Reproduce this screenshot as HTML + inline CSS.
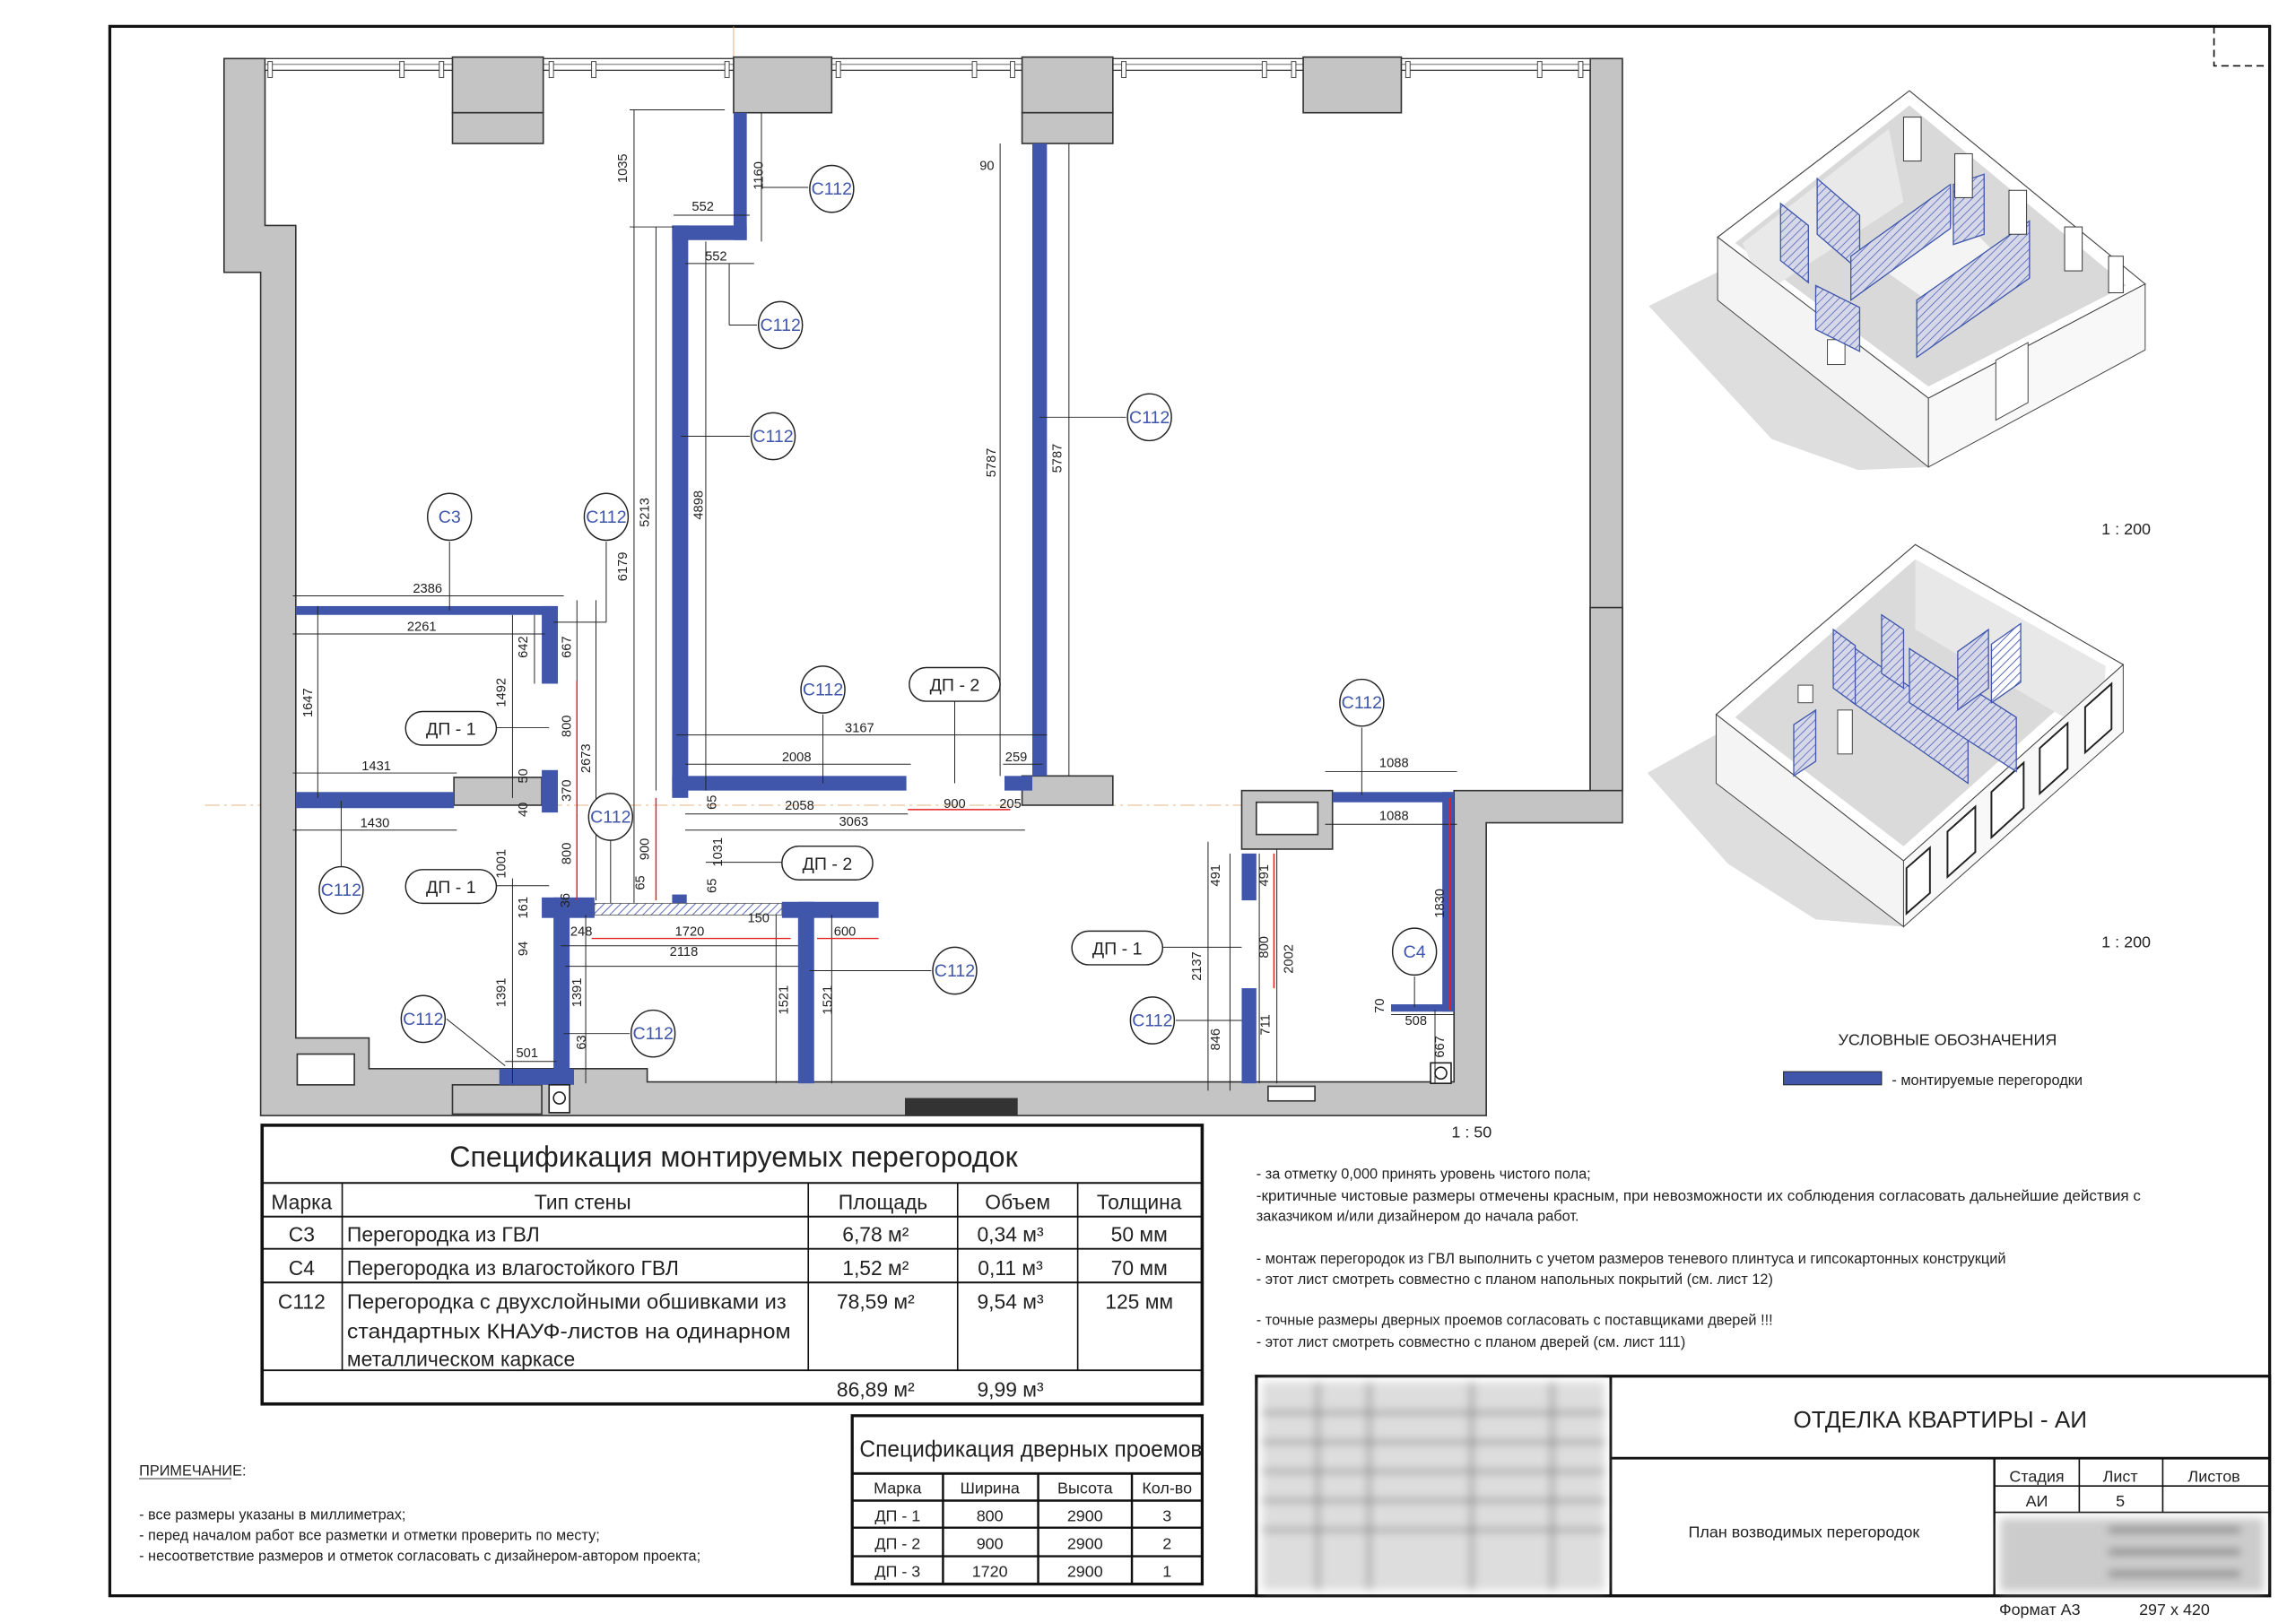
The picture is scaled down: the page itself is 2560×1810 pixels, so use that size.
<!DOCTYPE html>
<html><head><meta charset="utf-8"><style>
html,body{margin:0;padding:0;background:#fff;}
svg{display:block;}
text{font-family:"Liberation Sans",sans-serif;fill:#222;}
.d{font-size:9px;}
.b{fill:#3f56aa;}
.g{fill:#c4c4c4;stroke:#333;stroke-width:1;}
.l{stroke:#222;stroke-width:0.6;fill:none;}
.r{stroke:#e52020;stroke-width:0.9;fill:none;}
.rt{fill:#e52020;font-size:9px;}
.c{fill:#fff;stroke:#222;stroke-width:0.9;}
.ct{font-size:12px;fill:#3f56aa;text-anchor:middle;}
.ot{font-size:12px;text-anchor:middle;}
.w{fill:#fff;stroke:#444;stroke-width:0.6;}
.p{fill:url(#h);stroke:#3f56aa;stroke-width:0.8;}
</style></head><body>
<svg width="2560" height="1810" viewBox="0 0 1568 1108.6" preserveAspectRatio="none" xmlns="http://www.w3.org/2000/svg">
<defs>
<pattern id="h" width="4" height="4" patternUnits="userSpaceOnUse" patternTransform="rotate(45)"><rect width="4" height="4" fill="#d6d8e8"/><line x1="0" y1="0" x2="0" y2="4" stroke="#5566bb" stroke-width="1"/></pattern>
<pattern id="h2" width="4" height="4" patternUnits="userSpaceOnUse" patternTransform="rotate(45)"><rect width="4" height="4" fill="#fff"/><line x1="0" y1="0" x2="0" y2="4" stroke="#5566bb" stroke-width="1.2"/></pattern>
<filter id="bl"><feGaussianBlur stdDeviation="3"/></filter>
</defs>
<rect width="1568" height="1108.6" fill="#fff"/>
<!-- frame -->
<rect x="75" y="18" width="1475" height="1072" fill="none" stroke="#111" stroke-width="2"/>
<path d="M1512 18 V45 H1550" fill="none" stroke="#111" stroke-width="1" stroke-dasharray="5,3"/>
<line x1="501" y1="18" x2="501" y2="40" stroke="#e0a060" stroke-width="0.5"/>
<line x1="140" y1="550" x2="850" y2="550" stroke="#e0a060" stroke-width="0.5" stroke-dasharray="10,3,2,3"/>

<!-- building walls -->
<polygon class="g" points="153,40 181,40 181,154 202,154 202,709 252,709 252,730 442,730 442,739 993,739 993,540 1086,540 1086,40 1108,40 1108,562 1015,562 1015,762 178,762 178,186 153,186"/>
<rect x="181" y="40" width="905" height="8" fill="#fff" stroke="#333" stroke-width="0.8"/>
<line x1="181" y1="44" x2="1086" y2="44" stroke="#555" stroke-width="0.5"/>
<g fill="#fff" stroke="#444" stroke-width="0.6">
<rect x="183" y="42" width="3" height="11"/><rect x="273" y="42" width="3" height="11"/><rect x="300" y="42" width="3" height="11"/>
<rect x="375" y="42" width="3" height="11"/><rect x="404" y="42" width="3" height="11"/><rect x="495" y="42" width="3" height="11"/>
<rect x="571" y="42" width="3" height="11"/><rect x="664" y="42" width="3" height="11"/><rect x="690" y="42" width="3" height="11"/>
<rect x="766" y="42" width="3" height="11"/><rect x="862" y="42" width="3" height="11"/><rect x="882" y="42" width="3" height="11"/>
<rect x="960" y="42" width="3" height="11"/><rect x="1050" y="42" width="3" height="11"/><rect x="1078" y="42" width="3" height="11"/>
</g>
<rect class="g" x="309" y="39" width="62" height="38"/><rect class="g" x="309" y="77" width="62" height="21"/>
<rect class="g" x="501" y="39" width="67" height="38"/>
<rect class="g" x="698" y="39" width="62" height="38"/><rect class="g" x="698" y="77" width="62" height="21"/>
<rect class="g" x="890" y="39" width="67" height="38"/>
<rect class="g" x="1086" y="415" width="22" height="125"/>
<rect x="618" y="750" width="77" height="12" fill="#333"/>
<rect x="203" y="720" width="39" height="21" fill="#fff" stroke="#333"/>
<rect x="866" y="742" width="32" height="10" fill="#fff" stroke="#333"/>
<rect class="g" x="309" y="741" width="61" height="20"/>
<rect class="g" x="310" y="531" width="60" height="19"/>
<rect class="g" x="698" y="530" width="62" height="20"/>
<rect class="g" x="848" y="540" width="62" height="40"/><rect x="858" y="548" width="42" height="22" fill="#fff" stroke="#333"/>

<!-- blue partitions -->
<g class="b">
<rect x="501" y="77" width="9" height="87"/><rect x="459" y="154" width="51" height="10"/>
<rect x="459" y="154" width="11" height="391"/><rect x="459" y="530" width="160" height="10"/>
<rect x="705" y="98" width="10" height="432"/><rect x="686" y="530" width="19" height="10"/>
<rect x="202" y="414" width="178" height="6"/><rect x="370" y="414" width="11" height="53"/>
<rect x="202" y="541" width="108" height="11"/><rect x="370" y="526" width="11" height="29"/>
<rect x="370" y="613" width="36" height="14"/><rect x="378" y="613" width="11" height="127"/>
<rect x="459" y="611" width="10" height="6"/>
<rect x="534" y="616" width="66" height="11"/><rect x="545" y="616" width="11" height="124"/>
<rect x="341" y="730" width="51" height="11"/>
<rect x="848" y="583" width="10" height="32"/><rect x="848" y="675" width="10" height="65"/>
<rect x="910" y="541" width="83" height="7"/><rect x="985" y="541" width="8" height="150"/>
<rect x="950" y="686" width="43" height="5"/>
</g>
<rect x="406" y="617" width="128" height="8" fill="url(#h2)" stroke="#555" stroke-width="0.5"/>
<rect x="375" y="741" width="14" height="19" fill="#fff" stroke="#222"/><circle cx="382" cy="750" r="4" fill="none" stroke="#222"/>
<rect x="977" y="726" width="14" height="14" fill="#fff" stroke="#222"/><circle cx="984" cy="733" r="4" fill="none" stroke="#222"/>

<!-- dimension lines -->
<g class="l">
<line x1="200" y1="407" x2="385" y2="407"/><line x1="200" y1="433" x2="372" y2="433"/>
<line x1="200" y1="528" x2="312" y2="528"/><line x1="200" y1="567" x2="312" y2="567"/>
<line x1="217" y1="414" x2="217" y2="545"/><line x1="350" y1="420" x2="350" y2="545"/><line x1="365" y1="420" x2="365" y2="467"/>
<line x1="394" y1="410" x2="394" y2="467"/><line x1="407" y1="410" x2="407" y2="615"/>
<line x1="433" y1="75" x2="433" y2="617"/><line x1="448" y1="155" x2="448" y2="540"/>
<line x1="430" y1="75" x2="495" y2="75"/><line x1="430" y1="155" x2="460" y2="155"/>
<line x1="520" y1="77" x2="520" y2="165"/><line x1="460" y1="147" x2="512" y2="147"/><line x1="468" y1="180" x2="515" y2="180"/>
<line x1="482" y1="165" x2="482" y2="540"/><line x1="683" y1="98" x2="683" y2="530"/><line x1="730" y1="98" x2="730" y2="530"/>
<line x1="462" y1="502" x2="715" y2="502"/><line x1="468" y1="522" x2="622" y2="522"/><line x1="468" y1="556" x2="620" y2="556"/>
<line x1="468" y1="567" x2="700" y2="567"/><line x1="685" y1="522" x2="712" y2="522"/>
<line x1="905" y1="527" x2="995" y2="527"/><line x1="905" y1="563" x2="995" y2="563"/>
<line x1="825" y1="575" x2="825" y2="745"/><line x1="840" y1="583" x2="840" y2="745"/><line x1="860" y1="583" x2="860" y2="740"/><line x1="872" y1="580" x2="872" y2="740"/>
<line x1="950" y1="693" x2="993" y2="693"/><line x1="980" y1="690" x2="980" y2="740"/>
<line x1="345" y1="725" x2="380" y2="725"/><line x1="400" y1="625" x2="400" y2="740"/>
<line x1="383" y1="646" x2="545" y2="646"/><line x1="386" y1="660" x2="545" y2="660"/><line x1="530" y1="625" x2="530" y2="740"/><line x1="568" y1="625" x2="568" y2="740"/>
<line x1="350" y1="600" x2="350" y2="740"/>
</g>
<g class="r">
<line x1="394" y1="465" x2="394" y2="555"/><line x1="394" y1="555" x2="394" y2="615"/>
<line x1="448" y1="545" x2="448" y2="615"/><line x1="620" y1="553" x2="690" y2="553"/>
<line x1="404" y1="641" x2="540" y2="641"/><line x1="558" y1="641" x2="600" y2="641"/>
<line x1="870" y1="583" x2="870" y2="675"/><line x1="990" y1="545" x2="990" y2="690"/>
</g>

<!-- dimension text horizontal -->
<g class="d" text-anchor="middle">
<text x="292" y="405">2386</text><text x="288" y="431">2261</text><text x="257" y="526">1431</text><text x="256" y="565">1430</text>
<text x="480" y="144">552</text><text x="489" y="178">552</text><text x="587" y="500">3167</text><text x="544" y="520">2008</text>
<text x="546" y="553">2058</text><text x="583" y="564">3063</text><text x="694" y="520">259</text><text x="690" y="552">205</text>
<text x="674" y="116">90</text><text x="952" y="524">1088</text><text x="952" y="560">1088</text><text x="967" y="700">508</text>
<text x="360" y="722">501</text><text x="397" y="639">248</text><text x="518" y="630">150</text><text x="467" y="653">2118</text>
</g>
<g class="rt" text-anchor="middle"><text x="652" y="552">900</text><text x="471" y="639">1720</text><text x="577" y="639">600</text></g>
<g class="d" text-anchor="middle">
<text transform="translate(428,115) rotate(-90)">1035</text><text transform="translate(521,120) rotate(-90)">1160</text>
<text transform="translate(443,350) rotate(-90)">5213</text><text transform="translate(428,387) rotate(-90)">6179</text>
<text transform="translate(480,345) rotate(-90)">4898</text><text transform="translate(680,316) rotate(-90)">5787</text>
<text transform="translate(725,313) rotate(-90)">5787</text><text transform="translate(360,442) rotate(-90)">642</text>
<text transform="translate(390,442) rotate(-90)">667</text><text transform="translate(345,473) rotate(-90)">1492</text>
<text transform="translate(213,480) rotate(-90)">1647</text><text transform="translate(403,518) rotate(-90)">2673</text>
<text transform="translate(360,530) rotate(-90)">50</text><text transform="translate(390,540) rotate(-90)">370</text>
<text transform="translate(360,553) rotate(-90)">40</text><text transform="translate(345,590) rotate(-90)">1001</text>
<text transform="translate(440,603) rotate(-90)">65</text><text transform="translate(489,605) rotate(-90)">65</text>
<text transform="translate(493,582) rotate(-90)">1031</text><text transform="translate(489,548) rotate(-90)">65</text>
<text transform="translate(360,620) rotate(-90)">161</text><text transform="translate(389,615) rotate(-90)">36</text>
<text transform="translate(360,648) rotate(-90)">94</text><text transform="translate(345,678) rotate(-90)">1391</text>
<text transform="translate(397,678) rotate(-90)">1391</text><text transform="translate(400,712) rotate(-90)">63</text>
<text transform="translate(538,683) rotate(-90)">1521</text><text transform="translate(568,683) rotate(-90)">1521</text>
<text transform="translate(833,598) rotate(-90)">491</text><text transform="translate(866,598) rotate(-90)">491</text>
<text transform="translate(820,660) rotate(-90)">2137</text><text transform="translate(883,655) rotate(-90)">2002</text>
<text transform="translate(867,700) rotate(-90)">711</text><text transform="translate(833,710) rotate(-90)">846</text>
<text transform="translate(945,687) rotate(-90)">70</text><text transform="translate(986,715) rotate(-90)">667</text>
</g>
<g class="rt" text-anchor="middle">
<text transform="translate(390,496) rotate(-90)">800</text><text transform="translate(390,583) rotate(-90)">800</text>
<text transform="translate(443,580) rotate(-90)">900</text><text transform="translate(866,647) rotate(-90)">800</text>
<text transform="translate(986,617) rotate(-90)">1830</text>
</g>

<!-- tag leaders -->
<g class="l">
<line x1="520" y1="128" x2="552" y2="128"/><line x1="498" y1="180" x2="498" y2="222"/><line x1="498" y1="222" x2="517" y2="222"/>
<line x1="465" y1="298" x2="512" y2="298"/><line x1="710" y1="285" x2="769" y2="285"/><line x1="307" y1="370" x2="307" y2="417"/>
<line x1="414" y1="370" x2="414" y2="425"/><line x1="378" y1="425" x2="414" y2="425"/><line x1="562" y1="488" x2="562" y2="535"/>
<line x1="652" y1="479" x2="652" y2="535"/><line x1="930" y1="497" x2="930" y2="543"/><line x1="339" y1="497" x2="375" y2="497"/>
<line x1="417" y1="574" x2="417" y2="617"/><line x1="534" y1="589" x2="482" y2="589"/><line x1="339" y1="605" x2="375" y2="605"/>
<line x1="233" y1="592" x2="233" y2="547"/><line x1="636" y1="663" x2="553" y2="663"/><line x1="794" y1="647" x2="848" y2="647"/>
<line x1="305" y1="696" x2="345" y2="728"/><line x1="430" y1="706" x2="385" y2="706"/><line x1="803" y1="697" x2="848" y2="697"/><line x1="966" y1="667" x2="966" y2="688"/>
</g>
<!-- tags -->
<g>
<ellipse class="c" cx="568" cy="129" rx="15" ry="16"/><text class="ct" x="568" y="133">C112</text>
<ellipse class="c" cx="533" cy="222" rx="15" ry="16"/><text class="ct" x="533" y="226">C112</text>
<ellipse class="c" cx="528" cy="298" rx="15" ry="16"/><text class="ct" x="528" y="302">C112</text>
<ellipse class="c" cx="785" cy="285" rx="15" ry="16"/><text class="ct" x="785" y="289">C112</text>
<ellipse class="c" cx="307" cy="353" rx="15" ry="16"/><text class="ct" x="307" y="357">C3</text>
<ellipse class="c" cx="414" cy="353" rx="15" ry="16"/><text class="ct" x="414" y="357">C112</text>
<ellipse class="c" cx="562" cy="471" rx="15" ry="16"/><text class="ct" x="562" y="475">C112</text>
<ellipse class="c" cx="930" cy="480" rx="15" ry="16"/><text class="ct" x="930" y="484">C112</text>
<ellipse class="c" cx="417" cy="558" rx="15" ry="16"/><text class="ct" x="417" y="562">C112</text>
<ellipse class="c" cx="233" cy="608" rx="15" ry="16"/><text class="ct" x="233" y="612">C112</text>
<ellipse class="c" cx="652" cy="663" rx="15" ry="16"/><text class="ct" x="652" y="667">C112</text>
<ellipse class="c" cx="289" cy="696" rx="15" ry="16"/><text class="ct" x="289" y="700">C112</text>
<ellipse class="c" cx="446" cy="706" rx="15" ry="16"/><text class="ct" x="446" y="710">C112</text>
<ellipse class="c" cx="787" cy="697" rx="15" ry="16"/><text class="ct" x="787" y="701">C112</text>
<ellipse class="c" cx="966" cy="650" rx="15" ry="16"/><text class="ct" x="966" y="654">C4</text>
<rect class="c" x="621" y="456" width="62" height="23" rx="11.5"/><text class="ot" x="652" y="472">ДП - 2</text>
<rect class="c" x="277" y="486" width="62" height="23" rx="11.5"/><text class="ot" x="308" y="502">ДП - 1</text>
<rect class="c" x="534" y="578" width="62" height="23" rx="11.5"/><text class="ot" x="565" y="594">ДП - 2</text>
<rect class="c" x="277" y="594" width="62" height="23" rx="11.5"/><text class="ot" x="308" y="610">ДП - 1</text>
<rect class="c" x="732" y="636" width="62" height="23" rx="11.5"/><text class="ot" x="763" y="652">ДП - 1</text>
</g>

<!-- isometric 1 -->
<polygon points="1126,209 1185,180 1317,319 1269,321 1210,300" fill="#dedede"/>
<polygon points="1173,162 1304,62 1465,194 1317,272" fill="#fff" stroke="#444" stroke-width="0.7"/>
<polygon points="1185,166 1304,72 1452,195 1317,264" fill="#d9d9d9"/>
<polygon points="1190,166 1290,88 1300,138 1205,200" fill="#e9e9e9"/>
<polygon points="1280,180 1340,150 1380,190 1330,215" fill="#f4f4f4"/>
<polygon points="1173,162 1317,272 1317,319 1173,205" class="w" style="fill:#f4f4f4"/>
<polygon points="1317,272 1465,194 1465,239 1317,319" class="w" style="fill:#f8f8f8"/>
<polygon points="1363,246 1385,234 1385,275 1363,287" fill="#fff" stroke="#444" stroke-width="0.6"/>
<rect x="1248" y="232" width="12" height="17" fill="#fff" stroke="#444" stroke-width="0.6"/>
<polygon class="p" points="1216,139 1235,154 1235,193 1216,178"/>
<polygon class="p" points="1241,122 1270,147 1270,185 1241,160"/>
<polygon class="p" points="1264,175 1332,126 1332,156 1264,205"/>
<polygon class="p" points="1309,205 1386,151 1386,190 1309,244"/>
<polygon class="p" points="1334,126 1355,119 1355,160 1334,167"/>
<polygon class="p" points="1240,195 1270,210 1270,240 1240,225"/>
<g fill="#fff" stroke="#333" stroke-width="0.6"><rect x="1300" y="80" width="12" height="30"/><rect x="1335" y="105" width="12" height="30"/><rect x="1372" y="130" width="12" height="30"/><rect x="1410" y="155" width="12" height="30"/><rect x="1440" y="175" width="10" height="25"/></g>
<!-- isometric 2 -->
<polygon points="1125,528 1175,500 1300,633 1240,628 1180,590" fill="#dedede"/>
<polygon points="1172,488 1308,372 1450,454 1300,588" fill="#fff" stroke="#444" stroke-width="0.7"/>
<polygon points="1185,490 1308,382 1438,455 1300,578" fill="#dadada"/>
<polygon points="1308,382 1438,455 1435,505 1308,430" fill="#e8e8e8"/>
<polygon points="1172,488 1300,588 1300,633 1172,535" class="w" style="fill:#f4f4f4"/>
<polygon points="1300,588 1450,454 1450,500 1300,633" class="w" style="fill:#f8f8f8"/>
<g fill="#fff" stroke="#222" stroke-width="1.2">
<polygon points="1302,593 1318,579 1318,610 1302,624"/><polygon points="1330,568 1349,551 1349,582 1330,599"/>
<polygon points="1360,541 1382,521 1382,552 1360,572"/><polygon points="1393,511 1412,494 1412,525 1393,542"/>
<polygon points="1424,483 1442,467 1442,498 1424,514"/></g>
<polygon class="p" points="1264,441 1344,497 1344,535 1264,479"/>
<polygon class="p" points="1304,443 1377,490 1377,527 1304,480"/>
<polygon class="p" points="1252,430 1267,441 1267,481 1252,470"/>
<polygon class="p" points="1285,420 1300,430 1300,470 1285,460"/>
<polygon class="p" points="1337,445 1358,430 1358,470 1337,485"/>
<polygon points="1360,440 1380,426 1380,466 1360,480" fill="url(#h2)" stroke="#3f56aa" stroke-width="0.8"/>
<polygon class="p" points="1225,495 1240,485 1240,520 1225,530"/>
<rect x="1255" y="485" width="10" height="30" fill="#fff" stroke="#444" stroke-width="0.6"/>
<rect x="1228" y="468" width="10" height="12" fill="#fff" stroke="#444" stroke-width="0.6"/>

<g font-size="11" text-anchor="middle"><text x="1452" y="365">1 : 200</text><text x="1452" y="647">1 : 200</text><text x="1005" y="777">1 : 50</text></g>
<text x="1330" y="714" font-size="11" text-anchor="middle">УСЛОВНЫЕ ОБОЗНАЧЕНИЯ</text>
<rect x="1218" y="732" width="67" height="9" fill="#3f56aa" stroke="#222" stroke-width="0.6"/>
<text x="1292" y="741" font-size="10">- монтируемые перегородки</text>

<!-- table 1 -->
<g stroke="#111" fill="none">
<rect x="179" y="768.6" width="642" height="190.4" stroke-width="2.2"/>
<line x1="179" y1="808" x2="821" y2="808" stroke-width="1.2"/>
<line x1="179" y1="831" x2="821" y2="831" stroke-width="1.2"/>
<line x1="179" y1="853" x2="821" y2="853" stroke-width="1.2"/>
<line x1="179" y1="876" x2="821" y2="876" stroke-width="1.2"/>
<line x1="179" y1="936" x2="821" y2="936" stroke-width="1.2"/>
<line x1="233.7" y1="808" x2="233.7" y2="936" stroke-width="1"/>
<line x1="552" y1="808" x2="552" y2="936" stroke-width="1"/>
<line x1="654" y1="808" x2="654" y2="936" stroke-width="1"/>
<line x1="736" y1="808" x2="736" y2="936" stroke-width="1"/>
</g>
<text x="307" y="797" font-size="20" textLength="388" lengthAdjust="spacingAndGlyphs">Спецификация монтируемых перегородок</text>
<g font-size="14" text-anchor="middle">
<text x="206" y="826">Марка</text><text x="398" y="826">Тип стены</text><text x="603" y="826">Площадь</text><text x="695" y="826">Объем</text><text x="778" y="826">Толщина</text>
<text x="206" y="848">C3</text><text x="206" y="871">C4</text><text x="206" y="894">C112</text>
<text x="598" y="848">6,78 м²</text><text x="690" y="848">0,34 м³</text><text x="778" y="848">50 мм</text>
<text x="598" y="871">1,52 м²</text><text x="690" y="871">0,11 м³</text><text x="778" y="871">70 мм</text>
<text x="598" y="894">78,59 м²</text><text x="690" y="894">9,54 м³</text><text x="778" y="894">125 мм</text>
<text x="598" y="954">86,89 м²</text><text x="690" y="954">9,99 м³</text>
</g>
<g font-size="14">
<text x="237" y="848">Перегородка из ГВЛ</text>
<text x="237" y="871">Перегородка из влагостойкого ГВЛ</text>
<text x="237" y="894" textLength="300" lengthAdjust="spacingAndGlyphs">Перегородка с двухслойными обшивками из</text>
<text x="237" y="914" textLength="303" lengthAdjust="spacingAndGlyphs">стандартных КНАУФ-листов на одинарном</text>
<text x="237" y="933">металлическом каркасе</text>
</g>
<!-- table 2 -->
<g stroke="#111" fill="none">
<rect x="582" y="967" width="239" height="115" stroke-width="2"/>
<line x1="582" y1="1006.5" x2="821" y2="1006.5" stroke-width="1.8"/>
<line x1="582" y1="1025" x2="821" y2="1025" stroke-width="1.5"/>
<line x1="582" y1="1043.5" x2="821" y2="1043.5" stroke-width="1.5"/>
<line x1="582" y1="1063" x2="821" y2="1063" stroke-width="1.5"/>
<line x1="644" y1="1006.5" x2="644" y2="1082" stroke-width="1.5"/>
<line x1="709" y1="1006.5" x2="709" y2="1082" stroke-width="1.5"/>
<line x1="773" y1="1006.5" x2="773" y2="1082" stroke-width="1.5"/>
</g>
<text x="587" y="995" font-size="16" textLength="234" lengthAdjust="spacingAndGlyphs">Спецификация дверных проемов</text>
<g font-size="11" text-anchor="middle">
<text x="613" y="1020">Марка</text><text x="676" y="1020">Ширина</text><text x="741" y="1020">Высота</text><text x="797" y="1020">Кол-во</text>
<text x="613" y="1039">ДП - 1</text><text x="676" y="1039">800</text><text x="741" y="1039">2900</text><text x="797" y="1039">3</text>
<text x="613" y="1058">ДП - 2</text><text x="676" y="1058">900</text><text x="741" y="1058">2900</text><text x="797" y="1058">2</text>
<text x="613" y="1077">ДП - 3</text><text x="676" y="1077">1720</text><text x="741" y="1077">2900</text><text x="797" y="1077">1</text>
</g>
<!-- left notes -->
<g font-size="10" fill="#333">
<text x="95" y="1008">ПРИМЕЧАНИЕ:</text>
<text x="95" y="1038">- все размеры указаны в миллиметрах;</text>
<text x="95" y="1052">- перед началом работ все разметки и отметки проверить по месту;</text>
<text x="95" y="1066">- несоответствие размеров и отметок согласовать с дизайнером-автором проекта;</text>
</g>
<line x1="95" y1="1010" x2="158" y2="1010" stroke="#333" stroke-width="0.6"/>
<!-- right notes -->
<g font-size="10" fill="#333">
<text x="858" y="805">- за отметку 0,000 принять уровень чистого пола;</text>
<text x="858" y="820" textLength="604" lengthAdjust="spacingAndGlyphs">-критичные чистовые размеры отмечены красным, при невозможности их соблюдения согласовать дальнейшие действия с</text>
<text x="858" y="834">заказчиком и/или дизайнером до начала работ.</text>
<text x="858" y="863">- монтаж перегородок из ГВЛ выполнить с учетом размеров теневого плинтуса и гипсокартонных конструкций</text>
<text x="858" y="877">- этот лист смотреть совместно с планом напольных покрытий (см. лист 12)</text>
<text x="858" y="905">- точные размеры дверных проемов согласовать с поставщиками дверей !!!</text>
<text x="858" y="920">- этот лист смотреть совместно с планом дверей (см. лист 111)</text>
</g>
<!-- title block -->
<g stroke="#111" fill="none">
<rect x="858" y="940" width="692" height="150" stroke-width="2"/>
<line x1="1100" y1="940" x2="1100" y2="1090" stroke-width="1.8"/>
<line x1="1100" y1="996" x2="1550" y2="996" stroke-width="1.8"/>
<line x1="1362" y1="996" x2="1362" y2="1090" stroke-width="1.5"/>
<line x1="1420" y1="996" x2="1420" y2="1033" stroke-width="1"/>
<line x1="1477" y1="996" x2="1477" y2="1033" stroke-width="1"/>
<line x1="1362" y1="1015" x2="1550" y2="1015" stroke-width="1"/>
<line x1="1362" y1="1033" x2="1550" y2="1033" stroke-width="1"/>
</g>
<g filter="url(#bl)">
<rect x="862" y="944" width="234" height="142" fill="#ddd"/>
<g stroke="#777" stroke-width="2"><line x1="862" y1="965" x2="1096" y2="965"/><line x1="862" y1="985" x2="1096" y2="985"/><line x1="862" y1="1005" x2="1096" y2="1005"/><line x1="862" y1="1025" x2="1096" y2="1025"/><line x1="862" y1="1045" x2="1096" y2="1045"/><line x1="900" y1="944" x2="900" y2="1086"/><line x1="935" y1="944" x2="935" y2="1086"/><line x1="1005" y1="944" x2="1005" y2="1086"/><line x1="1060" y1="944" x2="1060" y2="1086"/></g>
<rect x="1366" y="1037" width="180" height="50" fill="#ccc"/>
<g stroke="#555" stroke-width="3"><line x1="1440" y1="1045" x2="1530" y2="1045"/><line x1="1440" y1="1060" x2="1530" y2="1060"/><line x1="1440" y1="1075" x2="1530" y2="1075"/></g>
</g>
<text x="1325" y="975" font-size="16" text-anchor="middle">ОТДЕЛКА КВАРТИРЫ - АИ</text>
<g font-size="11" text-anchor="middle">
<text x="1391" y="1012">Стадия</text><text x="1448" y="1012">Лист</text><text x="1512" y="1012">Листов</text>
<text x="1391" y="1029">АИ</text><text x="1448" y="1029">5</text>
<text x="1232" y="1050">План возводимых перегородок</text>
<text x="1393" y="1103">Формат А3</text><text x="1485" y="1103">297 x 420</text>
</g>
</svg>
</body></html>
